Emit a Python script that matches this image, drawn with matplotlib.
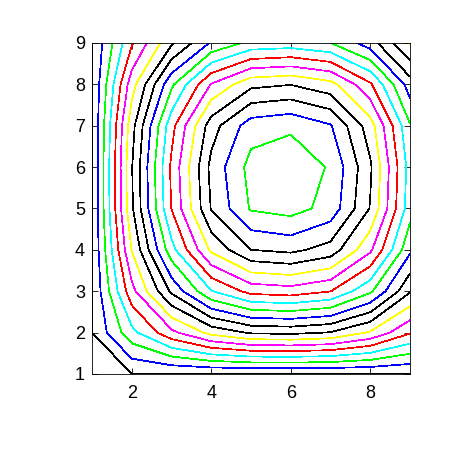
import numpy as np
import matplotlib
matplotlib.use("Agg")
import matplotlib.pyplot as plt

# grid (column = x, row = y)
x_vals = [1, 2, 3, 4, 5, 6, 7, 8, 9]
y_vals = [1, 2, 3, 4, 5, 6, 7, 8, 9]
z_values = [
    [0, 0.000, 0.000, 0.000, 0.000, 0.000, 0.000, 0.000, 0.000],
    [0, 2.693, 4.735, 6.321, 7.124, 7.240, 6.943, 5.879, 4.098],
    [0, 4.665, 8.201, 10.947, 12.339, 12.540, 12.025, 10.182, 7.098],
    [0, 6.047, 10.630, 14.189, 15.992, 16.253, 15.587, 13.197, 9.200],
    [0, 6.845, 12.033, 16.062, 18.104, 18.399, 17.644, 14.940, 10.414],
    [0, 6.942, 12.204, 16.290, 18.361, 18.660, 17.895, 15.152, 10.562],
    [0, 6.630, 11.655, 15.557, 17.535, 17.820, 17.090, 14.470, 10.087],
    [0, 5.568, 9.788, 13.065, 14.726, 14.965, 14.352, 12.152, 8.471],
    [0, 3.888, 6.834, 9.122, 10.282, 10.450, 10.021, 8.485, 5.915],
]

levels = list(range(0, 19))
level_colors = ["#000000", "#0000ff", "#00ff00", "#00ffff", "#ff0000", "#ff00ff",
                "#ffff00", "#000000", "#000000", "#0000ff", "#00ff00", "#00ffff",
                "#ff0000", "#ff00ff", "#ffff00", "#000000", "#000000", "#0000ff",
                "#00ff00"]

x_ticks = [2, 4, 6, 8]
y_ticks = [1, 2, 3, 4, 5, 6, 7, 8, 9]

plt.rcParams["font.family"] = ["Liberation Sans", "DejaVu Sans"]

fig = plt.figure(figsize=(4.53, 4.53), dpi=100)
ax = fig.add_axes([0.2031, 0.1744, 0.702, 0.7307])

ax.contour(x_vals, y_vals, np.array(z_values), levels=levels,
           colors=level_colors, linewidths=0.5, antialiased=False)

ax.set_xlim(1, 9)
ax.set_ylim(1, 9)
ax.set_xticks(x_ticks)
ax.set_yticks(y_ticks)
ax.tick_params(axis="both", direction="in", length=4, width=0.6,
               top=True, right=True, labelsize=13)
ax.tick_params(axis="x", pad=8)
ax.tick_params(axis="y", pad=5)
for sp in ax.spines.values():
    sp.set_linewidth(0.6)

fig.savefig("out.png", dpi=100)
plt.close(fig)
